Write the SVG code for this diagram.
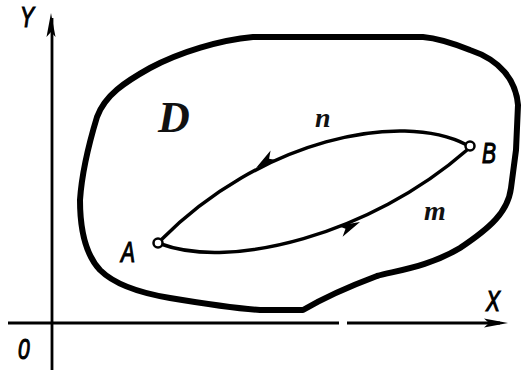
<svg xmlns="http://www.w3.org/2000/svg" width="521" height="376" viewBox="0 0 521 376">
<style>
.lbl{font-family:"Liberation Sans",Arial,sans-serif;font-style:italic;font-size:30px;fill:#000;stroke:#000;stroke-width:1.2}
.var{font-family:"Liberation Serif","Times New Roman",serif;font-style:italic;font-weight:bold;fill:#111}
.axis{stroke:#000;stroke-width:2.8;fill:none}
.curve{stroke:#000;stroke-width:3.5;fill:none}
.pt{fill:#fff;stroke:#000;stroke-width:2.5}
</style>
<defs>
<path id="head" d="M0,0 L-22,-6 L-16,0 L-22,6 Z" fill="#000"/>
<path id="axhead" d="M0,0 L-24,-4.5 L-19,0 L-24,4.5 Z" fill="#000"/>
</defs>
<rect width="521" height="376" fill="#fff"/>
<g id="axes">
<line class="axis" x1="52" y1="18" x2="52" y2="370"/>
<line class="axis" x1="8" y1="323" x2="339" y2="323"/>
<line class="axis" x1="347" y1="323" x2="500" y2="323"/>
<use href="#axhead" transform="translate(508,323)"/>
<use href="#axhead" transform="translate(51,13) rotate(-90)"/>
<text class="lbl" transform="translate(20,27) scale(0.7,1)">Y</text>
<text class="lbl" transform="translate(486,311) scale(0.7,1)">X</text>
<text class="lbl" transform="translate(18,359) scale(0.7,1)">0</text>
</g>
<g id="region-D">
<path d="M 260,310 L 303,310 C 320,300 345,288 377,276 C 400,270 430,266 460,248 C 490,228 508,212 511,188 L 516,150 L 518,105 C 516,80 500,60 470,50 C 450,42 435,38 423,37 L 253,37 C 220,40 180,52 150,68 C 125,82 105,95 97,117 C 90,140 82,170 80,200 C 80,230 86,255 100,270 C 115,285 140,293 170,298 C 200,303 230,308 260,310 Z" fill="none" stroke="#000" stroke-width="6" stroke-linejoin="round"/>
<text class="var" x="158" y="132" font-size="44">D</text>
</g>
<g id="connectors">
<path id="arc-n" class="curve" d="M 467,145 C 400,110 260,140 161,240"/>
<path id="arc-m" class="curve" d="M 161,244 C 230,270 370,235 467,150"/>
<use href="#head" transform="translate(256,168) rotate(145)"/>
<use href="#head" transform="translate(360,222) rotate(-25)"/>
<text class="var" x="315" y="127" font-size="28">n</text>
<text class="var" x="424" y="220" font-size="28">m</text>
</g>
<g id="point-A">
<circle class="pt" cx="158" cy="243" r="4.5"/>
<text class="lbl" transform="translate(121,262) scale(0.7,1)">A</text>
</g>
<g id="point-B">
<circle class="pt" cx="470" cy="146" r="4.5"/>
<text class="lbl" transform="translate(482,163) scale(0.7,1)">B</text>
</g>
</svg>
